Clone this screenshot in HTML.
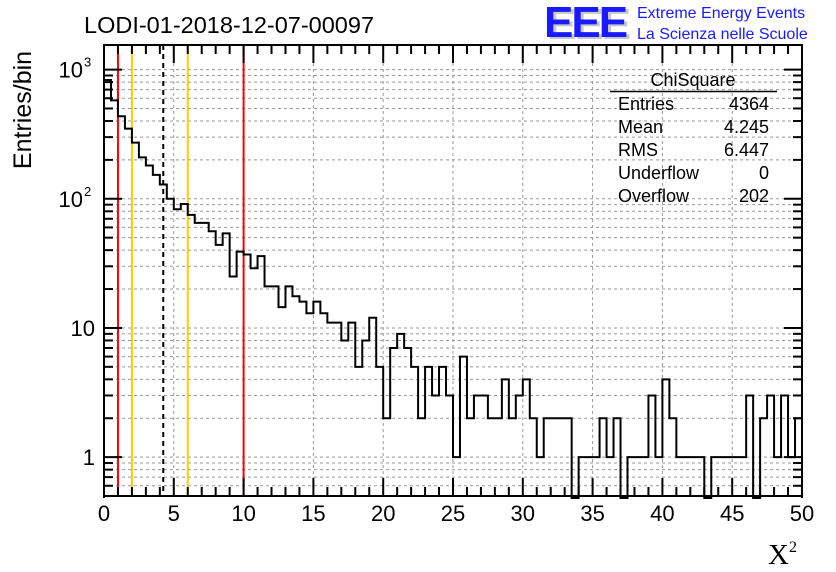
<!DOCTYPE html>
<html><head><meta charset="utf-8"><style>
body{margin:0;background:#fff;}
svg{display:block;font-family:"Liberation Sans",sans-serif;}
</style></head><body>
<svg id="chart" width="836" height="572" viewBox="0 0 836 572" xmlns="http://www.w3.org/2000/svg">
<rect width="836" height="572" fill="#fff"/>
<g id="grid"></g>
<g id="vlines"></g>
<path id="hist" fill="none" stroke="#000" stroke-width="2"/>
<g id="axes"></g>
<text x="84" y="33" font-size="23.5">LODI-01-2018-12-07-00097</text>
<g>
<text x="547" y="39" font-size="44" font-weight="bold" fill="#c8c8c8" letter-spacing="-2">EEE</text>
<text x="544" y="37" font-size="44" font-weight="bold" fill="#1a1aff" letter-spacing="-2">EEE</text>
<text x="637" y="18" font-size="16" fill="#1a1aff">Extreme Energy Events</text>
<text x="637" y="39" font-size="16" fill="#1a1aff">La Scienza nelle Scuole</text>
</g>
<g font-size="18">
<text x="693" y="86" text-anchor="middle">ChiSquare</text>
<line x1="610" y1="91.5" x2="777" y2="91.5" stroke="#000" stroke-width="1.5"/>
<text x="618" y="110">Entries</text><text x="769" y="110" text-anchor="end">4364</text>
<text x="618" y="133">Mean</text><text x="769" y="133" text-anchor="end">4.245</text>
<text x="618" y="156">RMS</text><text x="769" y="156" text-anchor="end">6.447</text>
<text x="618" y="179">Underflow</text><text x="769" y="179" text-anchor="end">0</text>
<text x="618" y="202">Overflow</text><text x="769" y="202" text-anchor="end">202</text>
</g>
<text transform="translate(31,110) rotate(-90)" text-anchor="middle" font-size="25">Entries/bin</text>
<text x="768" y="564" font-size="29" font-family="Liberation Serif,serif">X<tspan font-size="16" dy="-12">2</tspan></text>
</svg>
<script>
const counts=[830,578,435,349,272,209,181,153,129,100,83,91,75,65,65,56,44,54,25,39,37,29,36,21,21,14.5,21,17.6,16,13,16,13,11,11,8,11,5,8,12,5,2,7,9,7,5,2,5,3,5,3,1,6,2,3,3,2,2,4,2,3,4,2,1,2,2,2,2,0,1,1,1,2,1,2,0,1,1,1,3,1,4,2,1,1,1,1,0,1,1,1,1,1,3,0,2,3,1,3,1,2];
const xTicks=[0,5,10,15,20,25,30,35,40,45,50];
const yMajor=[1,10,100,1000];
const yLabels=["1","10","10","10"];
const yExp=["","","2","3"];
const markers=[{x:1,c:"#ff0000",d:""},{x:2,c:"#ffcc00",d:""},{x:4.245,c:"#000",d:"5,4"},{x:6,c:"#ffcc00",d:""},{x:10,c:"#ff0000",d:""}];
const binWidth=0.5;
const X0=104,X1=802,YT=45,YB=496;
const sx=v=>X0+(v/50)*(X1-X0);
const LMIN=Math.log10(0.5),LMAX=Math.log10(1550);
const sy=v=>YB-(Math.log10(v)-LMIN)/(LMAX-LMIN)*(YB-YT);
const NS="http://www.w3.org/2000/svg";
function mk(tag,attrs,parent){const e=document.createElementNS(NS,tag);for(const k in attrs)e.setAttribute(k,attrs[k]);parent.appendChild(e);return e;}
const grid=document.getElementById('grid'),axes=document.getElementById('axes'),vl=document.getElementById('vlines');
xTicks.slice(1,-1).forEach(t=>{const l=mk('line',{x1:sx(t),x2:sx(t),y1:YT,y2:YB,stroke:'#999','stroke-dasharray':'3,3'},grid);

});
[0.1,1,10,100,1000].forEach(dec=>{for(let m=1;m<=9;m++){const v=dec*m;if(v<0.5||v>1550)continue;const y=sy(v);
const l=mk('line',{x1:X0,x2:X1,y1:y,y2:y,stroke:'#999','stroke-dasharray':'3,3'},grid);


const tl=m===1?18:9;
mk('line',{x1:X0,x2:X0+tl,y1:y,y2:y,stroke:'#000','stroke-width':2},axes);
mk('line',{x1:X1-tl,x2:X1,y1:y,y2:y,stroke:'#000','stroke-width':2},axes);}});
markers.forEach(m=>{const l=mk('line',{x1:sx(m.x),x2:sx(m.x),y1:YT,y2:YB,stroke:m.c,'stroke-width':2,'stroke-dasharray':m.d},vl);

});
let d='';const floor=YB+2;
counts.forEach((c,i)=>{const x0=sx(i*binWidth),x1=sx((i+1)*binWidth);const y=c>0?Math.min(sy(c),floor):floor;
d+=(i===0?`M${x0},${floor}L${x0},${y}`:`L${x0},${y}`)+`L${x1},${y}`;});
d+=`L${X1},${floor}`;
document.getElementById('hist').setAttribute('d',d);
const fr=mk('rect',{x:X0,y:YT,width:X1-X0,height:YB-YT,fill:'none',stroke:'#000','stroke-width':2},axes);


for(let v=0;v<=50;v+=1){const x=sx(v);const tl=v%5===0?18:9;
mk('line',{x1:x,x2:x,y1:YB,y2:YB-tl,stroke:'#000','stroke-width':2},axes);
mk('line',{x1:x,x2:x,y1:YT,y2:YT+tl,stroke:'#000','stroke-width':2},axes);}
xTicks.forEach(t=>{const e=mk('text',{x:sx(t),y:521,'text-anchor':'middle','font-size':22},axes);e.textContent=t;

});
yMajor.forEach((v,i)=>{const y=sy(v);const e=mk('text',{x:yExp[i]?83:95,y:y+8,'text-anchor':'end','font-size':22},axes);e.textContent=yLabels[i];


if(yExp[i]){const s=mk('text',{x:84,y:y-3,'font-size':13},axes);s.textContent=yExp[i];}});
</script>
</body></html>
